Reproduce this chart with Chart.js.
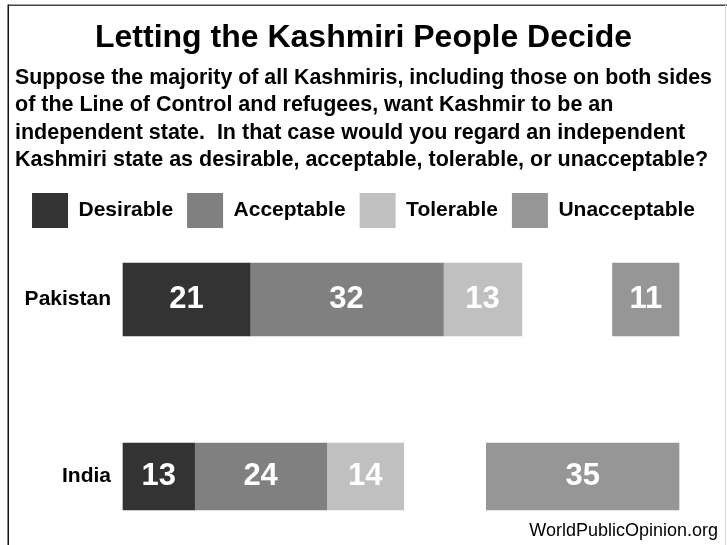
<!DOCTYPE html>
<html>
<head>
<meta charset="utf-8">
<script src="https://cdn.jsdelivr.net/npm/chart.js@4/dist/chart.umd.min.js"></script>
<style>
  html, body { margin: 0; padding: 0; background: #ffffff; }
  #wrap { position: relative; width: 727px; height: 545px; overflow: hidden; background: #fff; }
  canvas { position: absolute; left: 0; top: 0; }
</style>
</head>
<body>
<div id="wrap"><canvas id="c" width="727" height="545"></canvas></div>
<script>
// ---- data ----
const categories   = ['Pakistan', 'India'];
const desirable    = [21, 13];
const acceptable   = [32, 24];
const tolerable    = [13, 14];
const unacceptable = [11, 35];
const blankGap     = [15, 15];   // empty space drawn before "Unacceptable"

const titleText = 'Letting the Kashmiri People Decide';
const subtitleLines = [
  'Suppose the majority of all Kashmiris, including those on both sides',
  'of the Line of Control and refugees, want Kashmir to be an',
  'independent state.  In that case would you regard an independent',
  'Kashmiri state as desirable, acceptable, tolerable, or unacceptable?'
];
const sourceText = 'WorldPublicOpinion.org';

// ---- styling ----
const FONT = "'Liberation Sans', Arial, Helvetica, sans-serif";
const series = [
  { label: 'Desirable',    values: desirable,    color: '#333333', legend: true,  show: true },
  { label: 'Acceptable',   values: acceptable,   color: '#808080', legend: true,  show: true },
  { label: 'Tolerable',    values: tolerable,    color: '#c0c0c0', legend: true,  show: true },
  { label: '',             values: blankGap,     color: 'rgba(0,0,0,0)', legend: false, show: false },
  { label: 'Unacceptable', values: unacceptable, color: '#969696', legend: true,  show: true }
];
const rowAxis = ['xP', 'xI'];
const rowThickness = [73, 67];

const datasets = [];
categories.forEach((cat, r) => {
  series.forEach(s => {
    datasets.push({
      label: s.label,
      data: categories.map((_, i) => (i === r ? s.values[i] : null)),
      backgroundColor: s.color,
      borderWidth: 0,
      xAxisID: rowAxis[r],
      yAxisID: 'y',
      stack: 'row',
      barThickness: rowThickness[r],
      clip: false,
      inLegend: r === 0 && s.legend,
      showValue: s.show
    });
  });
});
const rowTotal = r => series.reduce((a, s) => a + s.values[r], 0);

const valueLabels = {
  id: 'valueLabels',
  afterDatasetsDraw(chart) {
    const ctx = chart.ctx;
    ctx.save();
    ctx.font = 'bold 31px ' + FONT;
    ctx.fillStyle = '#ffffff';
    ctx.textAlign = 'center';
    ctx.textBaseline = 'middle';
    chart.data.datasets.forEach((ds, di) => {
      if (!ds.showValue) return;
      const meta = chart.getDatasetMeta(di);
      meta.data.forEach((el, i) => {
        const v = ds.data[i];
        if (v === null || v === undefined) return;
        ctx.fillText(String(v), (el.x + el.base) / 2, el.y);
      });
    });
    ctx.restore();
  }
};

const frameAndSource = {
  id: 'frameAndSource',
  beforeDraw(chart) {
    const ctx = chart.ctx;
    ctx.save();
    ctx.fillStyle = '#ffffff';
    ctx.fillRect(0, 0, chart.width, chart.height);
    ctx.fillStyle = '#444444';
    ctx.fillRect(8, 4.5, 719, 1.5);
    ctx.fillStyle = '#111111';
    ctx.fillRect(7.5, 4.5, 1.5, 541);
    ctx.fillStyle = '#d8d8d8';
    ctx.fillRect(725, 5, 1, 540);
    ctx.restore();
  },
  afterDraw(chart) {
    const ctx = chart.ctx;
    ctx.save();
    ctx.font = '18px ' + FONT;
    ctx.fillStyle = '#000000';
    ctx.textAlign = 'right';
    ctx.textBaseline = 'alphabetic';
    ctx.fillText(sourceText, 718, 536);
    ctx.restore();
  }
};

new Chart(document.getElementById('c'), {
  type: 'bar',
  data: { labels: categories, datasets },
  plugins: [frameAndSource, valueLabels],
  options: {
    indexAxis: 'y',
    responsive: false,
    animation: false,
    devicePixelRatio: 1,
    layout: { padding: { left: 15, right: 15, top: 0, bottom: 68.5 } },
    plugins: {
      title: {
        display: true,
        text: titleText,
        color: '#000000',
        font: { family: FONT, size: 32, weight: 'bold', lineHeight: 1.2 },
        padding: { top: 18.5, bottom: 0 }
      },
      subtitle: {
        display: true,
        text: subtitleLines,
        align: 'start',
        color: '#000000',
        font: { family: FONT, size: 21.5, weight: 'bold', lineHeight: 27.3 / 21.5 },
        padding: { top: 7.45, bottom: 5.45 }
      },
      legend: {
        display: true,
        position: 'top',
        align: 'center',
        labels: {
          boxWidth: 36,
          boxHeight: 35,
          padding: 14,
          color: '#000000',
          font: { family: FONT, size: 21, weight: 'bold' },
          filter: (item, data) => !!data.datasets[item.datasetIndex].inLegend
        }
      },
      tooltip: { enabled: false }
    },
    scales: {
      xP: {
        type: 'linear', position: 'top', stacked: true,
        min: 0, max: rowTotal(0),
        display: true,
        grid: { display: false, drawTicks: false },
        border: { display: false },
        ticks: { display: false },
        afterFit: s => { s.height = 61.5; }
      },
      xI: {
        type: 'linear', position: 'bottom', stacked: true,
        min: 0, max: rowTotal(1),
        display: false
      },
      y: {
        type: 'category', position: 'left', stacked: true,
        offset: false,
        grid: { display: false, drawTicks: false },
        border: { display: false },
        ticks: { color: '#000000', padding: 12, font: { family: FONT, size: 21, weight: 'bold' } },
        afterFit: s => { s.width = 108; }
      },
      yR: {
        type: 'category', position: 'right',
        display: true,
        grid: { display: false, drawTicks: false },
        border: { display: false },
        ticks: { display: false },
        afterFit: s => { s.width = 33; }
      }
    }
  }
});
</script>
</body>
</html>
